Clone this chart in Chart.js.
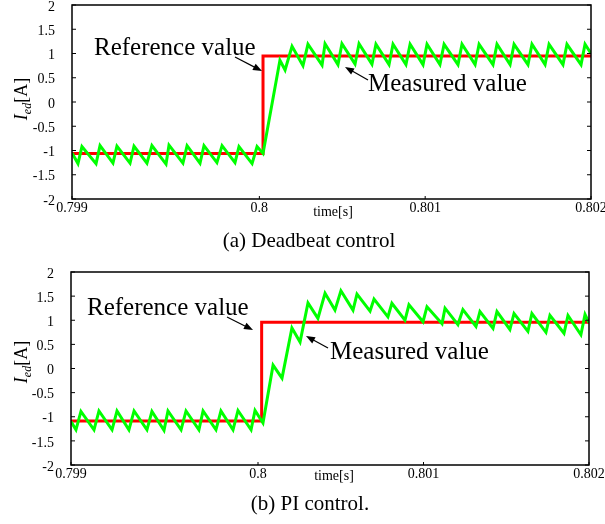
<!DOCTYPE html>
<html>
<head>
<meta charset="utf-8">
<script src="https://cdn.jsdelivr.net/npm/chart.js@4.4.1/dist/chart.umd.min.js"></script>
<style>
  html, body { margin: 0; padding: 0; background: #fff; }
  canvas { display: block; }
</style>
</head>
<body>
<canvas id="deadbeat" width="605" height="258"></canvas>
<canvas id="pi" width="605" height="266"></canvas>
<script>
'use strict';

// x axis (time in seconds); the plot starts a little before the "0.799" label
const xMin = 0.79887;
const xMax = 0.802;
const xTicks = [0.799, 0.8, 0.801, 0.802];
const yMin = -2;
const yMax = 2;

// (a) deadbeat control
const dbRefTime = [0.79887, 0.800022, 0.802];
const dbRefValue = [-1.06, 0.95, 0.95];
const dbTime = [
  0.798870, 0.798906, 0.798930, 0.799015, 0.799039, 0.799117, 0.799141, 0.799220,
  0.799244, 0.799322, 0.799352, 0.799437, 0.799455, 0.799539, 0.799564, 0.799642,
  0.799666, 0.799744, 0.799775, 0.799853, 0.799877, 0.799956, 0.799986, 0.800022,
  0.800124, 0.800155, 0.800197, 0.800263, 0.800293, 0.800378, 0.800396, 0.800474,
  0.800498, 0.800577, 0.800601, 0.800679, 0.800703, 0.800782, 0.800806, 0.800884,
  0.800909, 0.800987, 0.801011, 0.801089, 0.801114, 0.801198, 0.801222, 0.801301,
  0.801325, 0.801409, 0.801433, 0.801512, 0.801536, 0.801620, 0.801644, 0.801723,
  0.801747, 0.801831, 0.801855, 0.801940, 0.801964, 0.802000
];
const dbValue = [
  -1.05, -1.27, -0.92, -1.27, -0.90, -1.26, -0.91, -1.26,
  -0.91, -1.26, -0.90, -1.28, -0.89, -1.26, -0.90, -1.26,
  -0.90, -1.25, -0.90, -1.25, -0.92, -1.27, -0.92, -1.06,
  0.86, 0.66, 1.15, 0.75, 1.19, 0.76, 1.20, 0.77,
  1.20, 0.78, 1.20, 0.78, 1.19, 0.77, 1.19, 0.77,
  1.19, 0.77, 1.19, 0.77, 1.19, 0.77, 1.19, 0.77,
  1.19, 0.77, 1.19, 0.77, 1.19, 0.77, 1.19, 0.77,
  1.19, 0.77, 1.19, 0.77, 1.19, 1.00
];

// (b) PI control
const piRefTime = [0.79887, 0.800022, 0.802];
const piRefValue = [-1.09, 0.96, 0.96];
const piTime = [
  0.798870, 0.798900, 0.798930, 0.799009, 0.799039, 0.799118, 0.799148, 0.799220,
  0.799251, 0.799329, 0.799359, 0.799432, 0.799456, 0.799535, 0.799565, 0.799643,
  0.799668, 0.799746, 0.799776, 0.799849, 0.799879, 0.799958, 0.799982, 0.800030,
  0.800091, 0.800145, 0.800205, 0.800254, 0.800302, 0.800362, 0.800405, 0.800465,
  0.800501, 0.800574, 0.800598, 0.800677, 0.800701, 0.800785, 0.800809, 0.800888,
  0.800912, 0.800997, 0.801021, 0.801112, 0.801130, 0.801208, 0.801238, 0.801317,
  0.801341, 0.801420, 0.801444, 0.801522, 0.801547, 0.801631, 0.801655, 0.801740,
  0.801764, 0.801849, 0.801873, 0.801951, 0.801976, 0.802000
];
const piValue = [
  -1.10, -1.27, -0.89, -1.27, -0.88, -1.27, -0.88, -1.27,
  -0.88, -1.27, -0.89, -1.28, -0.88, -1.27, -0.88, -1.27,
  -0.88, -1.27, -0.88, -1.27, -0.87, -1.27, -0.87, -1.13,
  0.07, -0.20, 0.84, 0.55, 1.36, 1.04, 1.56, 1.21,
  1.61, 1.21, 1.54, 1.19, 1.44, 1.07, 1.35, 1.00,
  1.32, 0.97, 1.28, 0.93, 1.25, 0.91, 1.22, 0.87,
  1.18, 0.83, 1.18, 0.81, 1.14, 0.77, 1.14, 0.75,
  1.10, 0.73, 1.10, 0.70, 1.12, 0.95
];

const SERIF = "'Liberation Serif', 'Times New Roman', serif";

function toPoints(xs, ys) {
  return xs.map((x, i) => ({ x: x, y: ys[i] }));
}

function drawArrow(ctx, x1, y1, x2, y2) {
  const a = Math.atan2(y2 - y1, x2 - x1);
  const len = 9;
  const half = 3.5;
  ctx.beginPath();
  ctx.moveTo(x1, y1);
  ctx.lineTo(x2 - Math.cos(a) * len * 0.7, y2 - Math.sin(a) * len * 0.7);
  ctx.stroke();
  ctx.beginPath();
  ctx.moveTo(x2, y2);
  ctx.lineTo(x2 - len * Math.cos(a) + half * Math.sin(a), y2 - len * Math.sin(a) - half * Math.cos(a));
  ctx.lineTo(x2 - len * Math.cos(a) - half * Math.sin(a), y2 - len * Math.sin(a) + half * Math.cos(a));
  ctx.closePath();
  ctx.fill();
}

// frame, inward tick marks, axis titles, notes and caption
const decor = {
  id: 'decor',
  afterDraw(chart, args, opts) {
    const ctx = chart.ctx;
    const area = chart.chartArea;
    const xs = chart.scales.x;
    const ys = chart.scales.y;
    ctx.save();
    ctx.strokeStyle = '#000';
    ctx.fillStyle = '#000';

    ctx.lineWidth = 1.5;
    ctx.strokeRect(area.left, area.top, area.right - area.left, area.bottom - area.top);

    ctx.lineWidth = 1;
    ctx.beginPath();
    ys.ticks.forEach((t) => {
      const py = ys.getPixelForValue(t.value);
      ctx.moveTo(area.left, py);
      ctx.lineTo(area.left + 4, py);
      ctx.moveTo(area.right, py);
      ctx.lineTo(area.right - 4, py);
    });
    xs.ticks.forEach((t) => {
      const px = xs.getPixelForValue(t.value);
      ctx.moveTo(px, area.bottom);
      ctx.lineTo(px, area.bottom - 3);
    });
    ctx.stroke();

    // I_ed[A]
    ctx.save();
    ctx.translate(opts.yTitle.x, opts.yTitle.y);
    ctx.rotate(-Math.PI / 2);
    ctx.textBaseline = 'alphabetic';
    const big = 'italic 18px ' + SERIF;
    const sub = 'italic 12px ' + SERIF;
    const plain = '18px ' + SERIF;
    ctx.font = big;
    const wI = ctx.measureText('I').width;
    ctx.font = sub;
    const wSub = ctx.measureText('ed').width;
    ctx.font = plain;
    const wA = ctx.measureText('[A]').width;
    let x0 = -(wI + wSub + wA) / 2;
    ctx.font = big;
    ctx.fillText('I', x0, 0);
    x0 += wI;
    ctx.font = sub;
    ctx.fillText('ed', x0, 4);
    x0 += wSub;
    ctx.font = plain;
    ctx.fillText('[A]', x0, 0);
    ctx.restore();

    ctx.textBaseline = 'alphabetic';
    ctx.textAlign = 'center';
    ctx.font = '14px ' + SERIF;
    ctx.fillText('time[s]', opts.timeLabel.x, opts.timeLabel.y);

    ctx.font = '21px ' + SERIF;
    ctx.fillText(opts.caption.text, opts.caption.x, opts.caption.y);

    ctx.textAlign = 'left';
    ctx.font = '25px ' + SERIF;
    ctx.lineWidth = 1.2;
    opts.notes.forEach((n) => {
      ctx.fillText(n.text, n.x, n.y);
      drawArrow(ctx, n.from[0], n.from[1], n.to[0], n.to[1]);
    });
    ctx.restore();
  }
};

function makeChart(id, refTime, refValue, time, value, frame, decorOpts) {
  return new Chart(document.getElementById(id), {
    type: 'line',
    data: {
      datasets: [
        {
          label: 'Measured value',
          data: toPoints(time, value),
          borderColor: '#00ff00',
          borderWidth: 3,
          pointRadius: 0,
          tension: 0,
          order: 0,
        },
        {
          label: 'Reference value',
          data: toPoints(refTime, refValue),
          borderColor: '#ff0000',
          borderWidth: 3,
          pointRadius: 0,
          stepped: 'before',
          order: 1,
        },
      ],
    },
    options: {
      responsive: false,
      devicePixelRatio: 1,
      animation: false,
      events: [],
      layout: { padding: { left: 0, top: frame.top, right: frame.right, bottom: 0 } },
      plugins: {
        legend: { display: false },
        tooltip: { enabled: false },
        decor: decorOpts,
      },
      scales: {
        x: {
          type: 'linear',
          min: xMin,
          max: xMax,
          grid: { display: false, drawTicks: false },
          border: { display: false },
          afterBuildTicks(scale) {
            // the source figure prints 0.799 at the left corner of the frame
            scale.ticks = xTicks.map((v, i) => ({ value: i === 0 ? xMin : v }));
          },
          afterFit(scale) {
            scale.height = frame.xHeight;
            scale.paddingLeft = 0;
            scale.paddingRight = 0;
          },
          ticks: {
            autoSkip: false,
            maxRotation: 0,
            padding: 1,
            color: '#000',
            font: { family: SERIF, size: 14 },
            callback: (v, i) => String(xTicks[i]),
          },
        },
        y: {
          min: yMin,
          max: yMax,
          grid: { display: false, drawTicks: false },
          border: { display: false },
          afterFit(scale) {
            scale.width = frame.left;
            scale.paddingTop = 0;
            scale.paddingBottom = 0;
          },
          ticks: {
            stepSize: 0.5,
            padding: 17,
            labelOffset: 2,
            color: '#000',
            font: { family: SERIF, size: 14 },
            callback: (v) => String(v),
          },
        },
      },
    },
    plugins: [decor],
  });
}

makeChart('deadbeat', dbRefTime, dbRefValue, dbTime, dbValue,
  { left: 72, top: 5, right: 14, xHeight: 59 },
  {
    yTitle: { x: 27, y: 99 },
    timeLabel: { x: 333, y: 216 },
    caption: { text: '(a) Deadbeat control', x: 309, y: 247 },
    notes: [
      { text: 'Reference value', x: 94, y: 55, from: [235, 57], to: [262, 71] },
      { text: 'Measured value', x: 368, y: 91, from: [368, 80], to: [345, 67] },
    ],
  });

makeChart('pi', piRefTime, piRefValue, piTime, piValue,
  { left: 71, top: 14, right: 16, xHeight: 59 },
  {
    yTitle: { x: 27, y: 104 },
    timeLabel: { x: 334, y: 222 },
    caption: { text: '(b) PI control.', x: 310, y: 252 },
    notes: [
      { text: 'Reference value', x: 87, y: 57, from: [227, 59], to: [253, 72] },
      { text: 'Measured value', x: 330, y: 101, from: [328, 90], to: [306, 78] },
    ],
  });
</script>
</body>
</html>
